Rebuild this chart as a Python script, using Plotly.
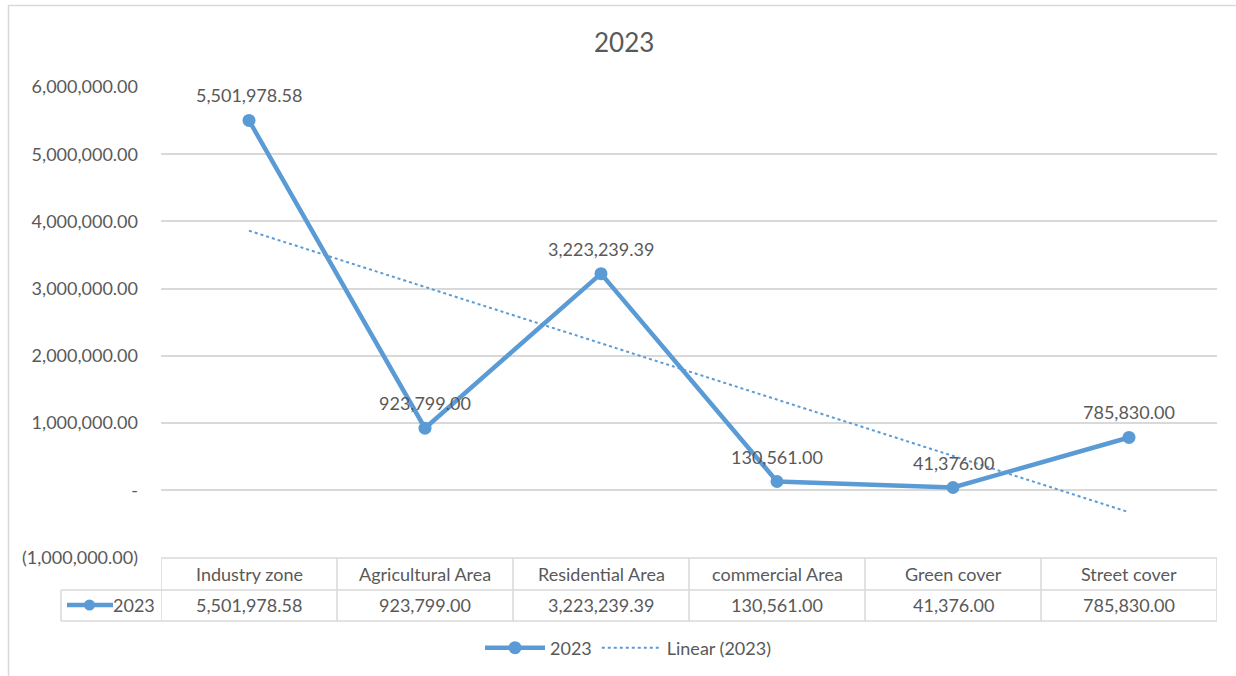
import numpy as np
import plotly.graph_objects as go

# Land-use areas for 2023
categories = ["Industry zone", "Agricultural Area", "Residential Area",
              "commercial Area", "Green cover", "Street cover"]
values_2023 = [5501978.58, 923799.00, 3223239.39, 130561.00, 41376.00, 785830.00]

y_tick_values = [-1000000, 0, 1000000, 2000000, 3000000, 4000000, 5000000, 6000000]
y_tick_labels = ["(1,000,000.00)", "-", "1,000,000.00", "2,000,000.00",
                 "3,000,000.00", "4,000,000.00", "5,000,000.00", "6,000,000.00"]

W, H = 1236, 676
BLUE = "#5B9BD5"
TXT = "#595959"
GRID = "#D9D9D9"
FONT = "Lato"
FS = 18


def px_x(p):
    return p / W


def px_y(p):
    return (H - p) / H


xs = np.arange(len(categories))
# least-squares linear trend over category positions 1..n
coef = np.polyfit(xs + 1, values_2023, 1)
trend = np.polyval(coef, xs + 1)

fig = go.Figure()
fig.add_trace(go.Scatter(
    x=xs, y=values_2023, mode="lines+markers", name="2023",
    line=dict(color=BLUE, width=4.5),
    marker=dict(color=BLUE, size=13),
))
fig.add_trace(go.Scatter(
    x=xs, y=trend, mode="lines", name="Linear (2023)",
    line=dict(color=BLUE, width=2, dash="dot"),
))

annotations = []
# value labels above the points
for x, v in zip(xs, values_2023):
    annotations.append(dict(
        x=x, y=v, xref="x", yref="y", text=f"{v:,.2f}", showarrow=False,
        yanchor="middle", yshift=25, font=dict(family=FONT, size=FS, color=TXT)))

# chart title
annotations.append(dict(
    x=px_x(624), y=px_y(42), xref="paper", yref="paper", text="2023",
    yanchor="middle", showarrow=False, font=dict(family=FONT, size=26, color=TXT)))

# data table below the plot
row_head_y, row_val_y = 574, 605
for x, c, v in zip(xs, categories, values_2023):
    annotations.append(dict(
        x=x, y=px_y(row_head_y), xref="x", yref="paper", text=c, yanchor="middle",
        showarrow=False, font=dict(family=FONT, size=FS, color=TXT)))
    annotations.append(dict(
        x=x, y=px_y(row_val_y), xref="x", yref="paper", text=f"{v:,.2f}", yanchor="middle",
        showarrow=False, font=dict(family=FONT, size=FS, color=TXT)))
annotations.append(dict(
    x=px_x(157), y=px_y(row_val_y), xref="paper", yref="paper", text="2023",
    xanchor="right", yanchor="middle", showarrow=False,
    font=dict(family=FONT, size=FS, color=TXT)))

shapes = []
tbl_top, tbl_mid, tbl_bot = 558, 590, 621
n = len(categories)
line_style = dict(color=GRID, width=1.5)
# horizontal table rules
shapes.append(dict(type="line", xref="x", yref="paper", x0=-0.5, x1=n - 0.5,
                   y0=px_y(tbl_top), y1=px_y(tbl_top), line=line_style))
for yy in (tbl_mid, tbl_bot):
    shapes.append(dict(type="line", xref="paper", yref="paper", x0=px_x(61), x1=px_x(1217),
                       y0=px_y(yy), y1=px_y(yy), line=line_style))
# vertical table rules at category boundaries
for b in np.arange(-0.5, n, 1.0):
    shapes.append(dict(type="line", xref="x", yref="paper", x0=b, x1=b,
                       y0=px_y(tbl_top), y1=px_y(tbl_bot), line=line_style))
shapes.append(dict(type="line", xref="paper", yref="paper", x0=px_x(61), x1=px_x(61),
                   y0=px_y(tbl_mid), y1=px_y(tbl_bot), line=line_style))
# legend key in the table's first cell
shapes.append(dict(type="line", xref="paper", yref="paper", x0=px_x(67), x1=px_x(113),
                   y0=px_y(row_val_y), y1=px_y(row_val_y), line=dict(color=BLUE, width=4.5)))
shapes.append(dict(type="circle", xref="paper", yref="paper",
                   x0=px_x(84), x1=px_x(95), y0=px_y(row_val_y + 5.5), y1=px_y(row_val_y - 5.5),
                   fillcolor=BLUE, line=dict(color=BLUE, width=0)))
# chart frame
shapes.append(dict(type="line", xref="paper", yref="paper", x0=px_x(8), x1=1,
                   y0=px_y(5.5), y1=px_y(5.5), line=dict(color=GRID, width=1.5)))
shapes.append(dict(type="line", xref="paper", yref="paper", x0=px_x(8.5), x1=px_x(8.5),
                   y0=px_y(5.5), y1=0, line=dict(color=GRID, width=1.5)))

fig.update_layout(
    width=W, height=H,
    margin=dict(l=0, r=0, t=0, b=0, autoexpand=False),
    paper_bgcolor="white", plot_bgcolor="white",
    font=dict(family=FONT, size=FS, color=TXT),
    showlegend=True,
    legend=dict(orientation="h", x=px_x(628), xanchor="center", y=px_y(648), yanchor="middle",
                font=dict(family=FONT, size=FS, color=TXT), itemwidth=60),
    xaxis=dict(domain=[px_x(161), px_x(1217)], range=[-0.5, n - 0.5],
               showticklabels=False, showgrid=False, zeroline=False, showline=False),
    yaxis=dict(domain=[px_y(557.5), px_y(87)], range=[-1000000, 6000000],
               tickvals=y_tick_values, ticktext=y_tick_labels,
               showgrid=True, gridcolor=GRID, gridwidth=1.5, zeroline=False,
               showline=False, ticks="", ticklabelstandoff=22,
               tickfont=dict(family=FONT, size=FS, color=TXT)),
    annotations=annotations,
    shapes=shapes,
)

fig.write_html("out.html")
